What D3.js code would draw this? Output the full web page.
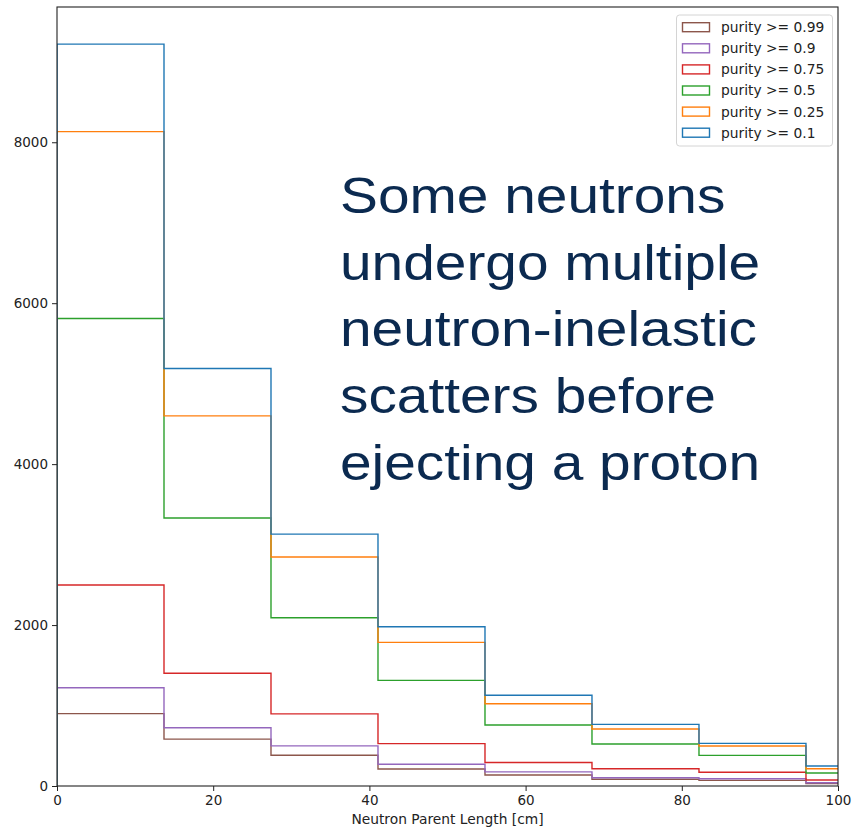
<!DOCTYPE html>
<html>
<head>
<meta charset="utf-8">
<script src="https://cdn.jsdelivr.net/npm/d3@7"></script>
<style>
  body { margin: 0; background: #fff; }
  text { font-family: "DejaVu Sans", sans-serif; }
</style>
</head>
<body>
<svg id="chart" width="852" height="830"></svg>
<script>
// Histogram bin edges (cm) and counts per purity threshold
const binEdges = [0, 13.7, 27.4, 41.1, 54.8, 68.5, 82.2, 95.9, 109.6];
const purity099 = [900, 582, 383, 211, 137, 83, 70, 29];
const purity090 = [1221, 724, 499, 270, 175, 103, 90, 41];
const purity075 = [2497, 1402, 896, 526, 292, 215, 170, 75];
const purity050 = [5810, 3330, 2091, 1313, 758, 522, 381, 161];
const purity025 = [8132, 4600, 2845, 1785, 1022, 708, 497, 215];
const purity010 = [9220, 5189, 3130, 1979, 1127, 766, 530, 248];
const seriesLabels = ["purity >= 0.99", "purity >= 0.9", "purity >= 0.75",
                      "purity >= 0.5", "purity >= 0.25", "purity >= 0.1"];
const seriesColors = ["#8c564b", "#9467bd", "#d62728", "#2ca02c", "#ff7f0e", "#1f77b4"];
const xTicks = [0, 20, 40, 60, 80, 100];
const yTicks = [0, 2000, 4000, 6000, 8000];
const xLabel = "Neutron Parent Length [cm]";
const noteLines = ["Some neutrons", "undergo multiple", "neutron-inelastic",
                   "scatters before", "ejecting a proton"];

const series = [purity099, purity090, purity075, purity050, purity025, purity010];

const width = 852, height = 830;
const margin = { left: 57, right: 14, top: 7, bottom: 44 };
const plotW = width - margin.left - margin.right;
const plotH = height - margin.top - margin.bottom;

const svg = d3.select("#chart");
const g = svg.append("g").attr("transform", `translate(${margin.left},${margin.top})`);

const x = d3.scaleLinear().domain([0, 100]).range([0, plotW]);
const yMax = d3.max(series.flat()) * 1.05;
const y = d3.scaleLinear().domain([0, yMax]).range([plotH, 0]);

g.append("clipPath").attr("id", "plot-clip")
  .append("rect").attr("width", plotW).attr("height", plotH);

// Step outline of one histogram
function stepPath(values) {
  const p = d3.path();
  p.moveTo(x(binEdges[0]), y(0));
  values.forEach((v, i) => {
    p.lineTo(x(binEdges[i]), y(v));
    p.lineTo(x(binEdges[i + 1]), y(v));
  });
  p.lineTo(x(binEdges[binEdges.length - 1]), y(0));
  return p.toString();
}

const lines = g.append("g").attr("clip-path", "url(#plot-clip)");
series.forEach((vals, i) => {
  lines.append("path")
    .attr("d", stepPath(vals))
    .attr("fill", "none")
    .attr("stroke", seriesColors[i])
    .attr("stroke-width", 1.4)
    .attr("stroke-linejoin", "miter");
});

// Axes
const xAxis = d3.axisBottom(x).tickValues(xTicks).tickSize(5).tickPadding(4).tickFormat(d3.format("d"));
const yAxis = d3.axisLeft(y).tickValues(yTicks).tickSize(5).tickPadding(4).tickFormat(d3.format("d"));

const gx = g.append("g").attr("transform", `translate(0,${plotH})`).call(xAxis);
const gy = g.append("g").call(yAxis);
[gx, gy].forEach(a => {
  a.select(".domain").remove();
  a.selectAll(".tick line").attr("stroke", "#222").attr("stroke-width", 1);
  a.selectAll(".tick text").attr("fill", "#222").style("font-size", "13.5px")
    .style("font-family", "DejaVu Sans, sans-serif");
});

// Frame
g.append("rect").attr("width", plotW).attr("height", plotH)
  .attr("fill", "none").attr("stroke", "#222").attr("stroke-width", 1.1);

g.append("text")
  .attr("x", plotW / 2).attr("y", plotH + 38)
  .attr("text-anchor", "middle")
  .attr("fill", "#222")
  .style("font-size", "13.8px")
  .text(xLabel);

// Legend (first series at top)
const legend = svg.append("g").attr("transform", "translate(676.5,15)");
legend.append("rect")
  .attr("width", 156).attr("height", 131).attr("rx", 3)
  .attr("fill", "#fff").attr("fill-opacity", 0.8)
  .attr("stroke", "#d4d4d4").attr("stroke-width", 1);
seriesLabels.forEach((lab, i) => {
  const row = legend.append("g").attr("transform", `translate(0,${12.2 + i * 21.1})`);
  row.append("rect").attr("x", 6).attr("y", -4.5).attr("width", 27).attr("height", 9)
    .attr("fill", "none").attr("stroke", seriesColors[i]).attr("stroke-width", 1.4);
  row.append("text").attr("x", 44.5).attr("y", 0).attr("dy", "0.36em")
    .attr("fill", "#222").style("font-size", "13.8px").text(lab);
});

// Annotation
const note = svg.append("g").attr("transform", "translate(340,0) scale(1.16,1)");
noteLines.forEach((t, i) => {
  note.append("text")
    .attr("x", 0).attr("y", 213 + i * 66.7)
    .attr("fill", "#0b2a50")
    .style("font-family", "Liberation Sans, Arial, sans-serif")
    .style("font-size", "49px")
    .text(t);
});
</script>
</body>
</html>
